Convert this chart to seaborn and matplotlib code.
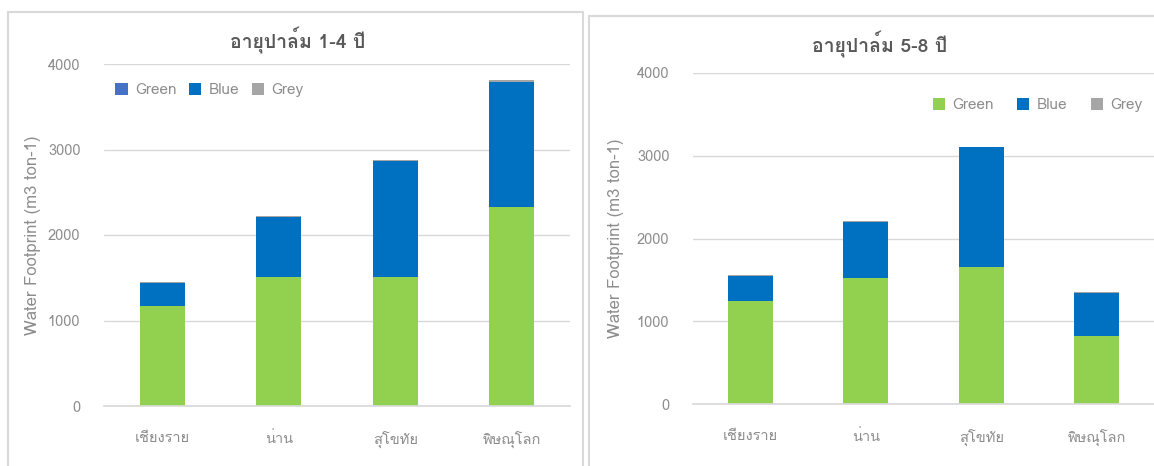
import numpy as np
import pandas as pd
import matplotlib
matplotlib.use("Agg")
import matplotlib.pyplot as plt
from matplotlib import font_manager
from matplotlib.ft2font import FT2Font
from matplotlib.patches import Rectangle
import seaborn as sns

provinces = ["เชียงราย", "น่าน", "สุโขทัย", "พิษณุโลก"]
series_names = ["Green", "Blue", "Grey"]

# อายุปาล์ม 1-4 ปี
green_1_4 = [1164, 1504, 1504, 2325]
blue_1_4 = [275, 710, 1365, 1467]
grey_1_4 = [8, 8, 8, 22]

# อายุปาล์ม 5-8 ปี
green_5_8 = [1241, 1522, 1654, 819]
blue_5_8 = [302, 683, 1446, 518]
grey_5_8 = [11, 12, 9, 12]

titles = ["อายุปาล์ม 1-4 ปี", "อายุปาล์ม 5-8 ปี"]
ylabel = "Water Footprint (m3 ton-1)"

C_GREEN = "#92D050"
C_BLUE = "#0070C0"
C_GREY = "#A5A5A5"
TXT = "#8C8C8C"
GRID = "#D9D9D9"


def find_thai_font():
    for f in font_manager.fontManager.ttflist:
        try:
            if 0x0E2D in FT2Font(f.fname).get_charmap():
                return f.name
        except Exception:
            pass
    return None


sns.set_theme(style="white")
thai = find_thai_font()
fams = ([thai] if thai else []) + ["Liberation Sans", "DejaVu Sans"]
plt.rcParams["font.family"] = fams

fig = plt.figure(figsize=(11.54, 4.66), dpi=100)

# panel borders like the excel chart frames
fig.patches.append(Rectangle((8 / 1154, -0.1), 575 / 1154, 1 - 12 / 466 + 0.1,
                             transform=fig.transFigure, fill=False, ec=GRID, lw=1.5))
fig.patches.append(Rectangle((589 / 1154, -0.1), 0.6, 1 - 16 / 466 + 0.1,
                             transform=fig.transFigure, fill=False, ec=GRID, lw=1.5))

ax1 = fig.add_axes([104 / 1154, 1 - 406 / 466, 466 / 1154, 342 / 466])
ax2 = fig.add_axes([693 / 1154, 1 - 404 / 466, 461 / 1154, 331 / 466])


def draw(ax, g, b, gr, title, title_x, title_y, leg_loc, ylpad, colsp):
    g = np.array(g)
    b = np.array(b)
    gr = np.array(gr)
    df = pd.DataFrame({"province": provinces, "gb": g + b, "total": g + b + gr, "green": g})
    sns.barplot(data=df, x="province", y="total", color=C_GREY, saturation=1,
                width=0.39, linewidth=0, ax=ax, label="Grey", order=provinces)
    sns.barplot(data=df, x="province", y="gb", color=C_BLUE, saturation=1,
                width=0.39, linewidth=0, ax=ax, label="Blue", order=provinces)
    sns.barplot(data=df, x="province", y="green", color=C_GREEN, saturation=1,
                width=0.39, linewidth=0, ax=ax, label="Green", order=provinces)
    ax.set_ylim(0, 4000)
    ax.set_yticks([0, 1000, 2000, 3000, 4000])
    ax.grid(axis="y", color=GRID, lw=1)
    ax.set_axisbelow(True)
    for s in ["top", "right", "left"]:
        ax.spines[s].set_visible(False)
    ax.spines["bottom"].set_color(GRID)
    ax.tick_params(axis="both", length=0, colors=TXT, labelsize=10.5)
    ax.tick_params(axis="y", pad=17)
    ax.tick_params(axis="x", pad=18)
    ax.set_xlabel("")
    ax.set_ylabel(ylabel, color=TXT, fontsize=12, labelpad=ylpad)
    fig.text(title_x, title_y, title, ha="center", va="center",
             fontsize=14, fontweight="bold", color="#595959")
    handles, labels = ax.get_legend_handles_labels()
    order = [labels.index(n) for n in series_names]
    leg = ax.legend([handles[i] for i in order], [labels[i] for i in order],
                    loc=leg_loc, ncol=3, frameon=False, fontsize=11,
                    handlelength=0.8, handleheight=0.8, handletextpad=0.5,
                    columnspacing=colsp, labelcolor=TXT)
    return leg


leg1 = draw(ax1, green_1_4, blue_1_4, grey_1_4, titles[0], 298 / 1154, 1 - 40 / 466,
            "upper left", 5, 0.8)
leg1.legend_handles[0].set_facecolor("#4472C4")
leg1.set_bbox_to_anchor((-0.005, 0.985))
draw(ax2, green_5_8, blue_5_8, grey_5_8, titles[1], 880 / 1154, 1 - 45 / 466,
     "upper right", 9, 1.5)
ax2.get_legend().set_bbox_to_anchor((1.005, 0.965))

fig.savefig("out.png", dpi=100)
